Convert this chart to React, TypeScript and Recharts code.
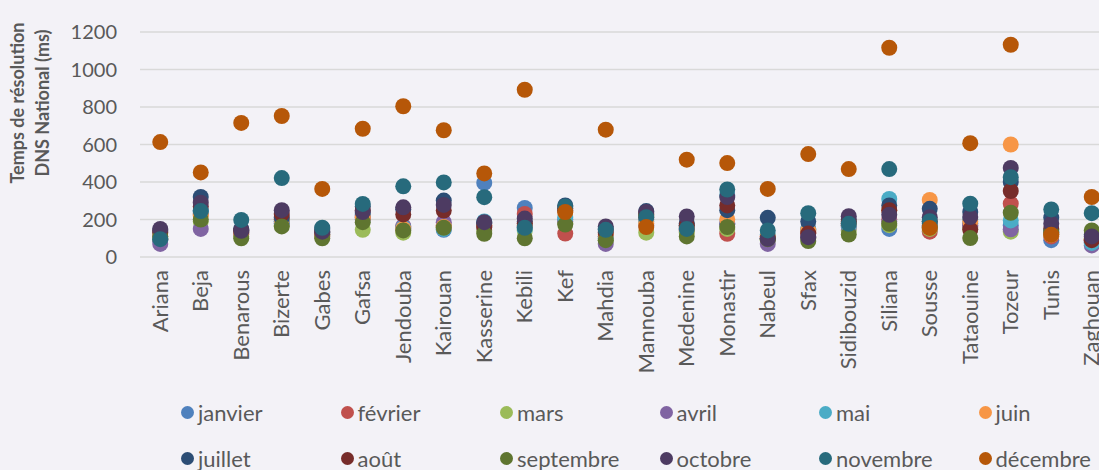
import { ComposedChart, Scatter, XAxis, YAxis, CartesianGrid } from 'recharts';

const categories = [
    'Ariana', 'Beja', 'Benarous', 'Bizerte', 'Gabes', 'Gafsa', 'Jendouba', 'Kairouan',
    'Kasserine', 'Kebili', 'Kef', 'Mahdia', 'Mannouba', 'Medenine', 'Monastir', 'Nabeul',
    'Sfax', 'Sidibouzid', 'Siliana', 'Sousse', 'Tataouine', 'Tozeur', 'Tunis', 'Zaghouan',
];

const janvier = [90, 250, 130, 190, 120, 200, 150, 145, 395, 262, 200, 100, 200, 150, 180, 100, 150, 180, 150, 160, 180, 170, 90, 80];
const fevrier = [95, 230, 120, 200, 110, 210, 160, 170, 170, 230, 125, 110, 210, 140, 124, 110, 130, 170, 200, 135, 160, 284, 110, 90];
const mars = [100, 190, 110, 170, 115, 145, 130, 160, 140, 140, 180, 90, 130, 130, 150, 90, 100, 140, 170, 150, 150, 135, 120, 100];
const avril = [70, 150, 130, 180, 120, 220, 165, 186, 160, 160, 190, 70, 170, 160, 175, 70, 110, 160, 190, 170, 170, 148, 130, 62];
const mai = [100, 240, 140, 190, 130, 230, 155, 150, 190, 150, 210, 110, 190, 170, 330, 120, 145, 170, 310, 180, 200, 195, 140, 75];
const juin = [110, 220, 130, 200, 120, 210, 150, 160, 170, 170, 240, 120, 180, 160, 200, 110, 140, 180, 250, 304, 190, 600, 120, 95];
const juillet = [140, 320, 150, 210, 150, 270, 255, 301, 180, 190, 275, 150, 245, 180, 250, 209, 190, 200, 275, 257, 240, 400, 210, 120];
const aout = [130, 270, 140, 230, 130, 250, 227, 248, 160, 180, 260, 130, 230, 170, 275, 100, 125, 190, 250, 190, 147, 352, 150, 90];
const septembre = [110, 200, 100, 163, 100, 186, 142, 156, 124, 100, 173, 90, 220, 110, 160, 95, 85, 120, 177, 160, 101, 236, 130, 142];
const octobre = [150, 290, 140, 250, 135, 240, 265, 278, 186, 205, 250, 163, 240, 216, 320, 97, 106, 218, 225, 212, 213, 475, 177, 110];
const novembre = [95, 245, 198, 421, 156, 283, 377, 398, 319, 156, 270, 145, 212, 150, 360, 142, 234, 177, 469, 191, 284, 426, 254, 234];
const decembre = [613, 451, 715, 752, 363, 684, 804, 676, 446, 892, 240, 679, 160, 519, 501, 363, 549, 469, 1116, 155, 607, 1132, 119, 320];

const yTicks = [0, 200, 400, 600, 800, 1000, 1200];

const series = [
    { name: 'janvier', values: janvier, color: '#4F81BD' },
    { name: 'février', values: fevrier, color: '#C0504D' },
    { name: 'mars', values: mars, color: '#9BBB59' },
    { name: 'avril', values: avril, color: '#8064A2' },
    { name: 'mai', values: mai, color: '#4BACC6' },
    { name: 'juin', values: juin, color: '#F79646' },
    { name: 'juillet', values: juillet, color: '#2C4D75' },
    { name: 'août', values: aout, color: '#772C2A' },
    { name: 'septembre', values: septembre, color: '#5F7530' },
    { name: 'octobre', values: octobre, color: '#4D3B62' },
    { name: 'novembre', values: novembre, color: '#276A7C' },
    { name: 'décembre', values: decembre, color: '#B65708' },
];

const data = categories.map((name, i) => {
    const row: Record<string, string | number> = { name };
    series.forEach((s) => {
        row[s.name] = s.values[i];
    });
    return row;
});

const FONT = 'Lato, "Open Sans", sans-serif';
const TEXT = '#595959';

const CategoryTick = (props: any) => {
    const { x, y, payload } = props;
    return (
        <text
            transform={`translate(${x},${y + 5}) rotate(-90)`}
            textAnchor='end'
            dy='0.35em'
            fontSize={22}
            fontFamily={FONT}
            fill={TEXT}
        >
            {payload.value}
        </text>
    );
};

const dot = (color: string) => (props: any) => {
    if (props.cy == null) return <g />;
    return <circle cx={props.cx} cy={props.cy} r={8} fill={color} />;
};

export default function App() {
    return (
        <div
            style={{
                position: 'absolute',
                left: 0,
                top: 0,
                width: 1099,
                height: 470,
                overflow: 'hidden',
                background: '#f3f2f7',
                fontFamily: FONT,
            }}
        >
            <svg width={70} height={220} style={{ position: 'absolute', left: 0, top: 0 }}>
                <text
                    transform='translate(24,103) rotate(-90)'
                    textAnchor='middle'
                    fontSize={18}
                    fontWeight='bold'
                    fontFamily={FONT}
                    fill={TEXT}
                >
                    Temps de résolution
                </text>
                <text
                    transform='translate(49,103) rotate(-90)'
                    textAnchor='middle'
                    fontSize={18}
                    fontWeight='bold'
                    fontFamily={FONT}
                    fill={TEXT}
                >
                    DNS National (ms)
                </text>
            </svg>
            <div style={{ position: 'absolute', left: 0, top: 0 }}>
                <ComposedChart width={1112} height={380} data={data} margin={{ top: 32, right: 0, bottom: 0, left: 0 }}>
                    <CartesianGrid vertical={false} stroke='#d9d9d9' strokeWidth={1.5} />
                    <XAxis
                        dataKey='name'
                        type='category'
                        height={123}
                        axisLine={false}
                        tickLine={false}
                        interval={0}
                        padding={{ left: 20.25, right: 20.25 }}
                        tick={<CategoryTick />}
                    />
                    <YAxis
                        width={140}
                        domain={[0, 1200]}
                        ticks={yTicks}
                        axisLine={false}
                        tickLine={false}
                        tickMargin={17}
                        tick={{ fontSize: 20, fill: TEXT, fontFamily: FONT }}
                    />
                    {series.map((s) => (
                        <Scatter
                            key={s.name}
                            dataKey={s.name}
                            fill={s.color}
                            shape={dot(s.color)}
                            isAnimationActive={false}
                        />
                    ))}
                </ComposedChart>
            </div>
            <div
                style={{
                    position: 'absolute',
                    left: 181,
                    top: 397,
                    display: 'grid',
                    gridTemplateColumns: 'repeat(6, 159.5px)',
                    rowGap: 16,
                }}
            >
                {series.map((s) => (
                    <div key={s.name} style={{ display: 'flex', alignItems: 'center', height: 30, whiteSpace: 'nowrap' }}>
                        <span
                            style={{
                                display: 'inline-block',
                                width: 13,
                                height: 13,
                                borderRadius: '50%',
                                background: s.color,
                                marginRight: 4,
                            }}
                        />
                        <span style={{ fontSize: 22, color: TEXT }}>{s.name}</span>
                    </div>
                ))}
            </div>
        </div>
    );
}
